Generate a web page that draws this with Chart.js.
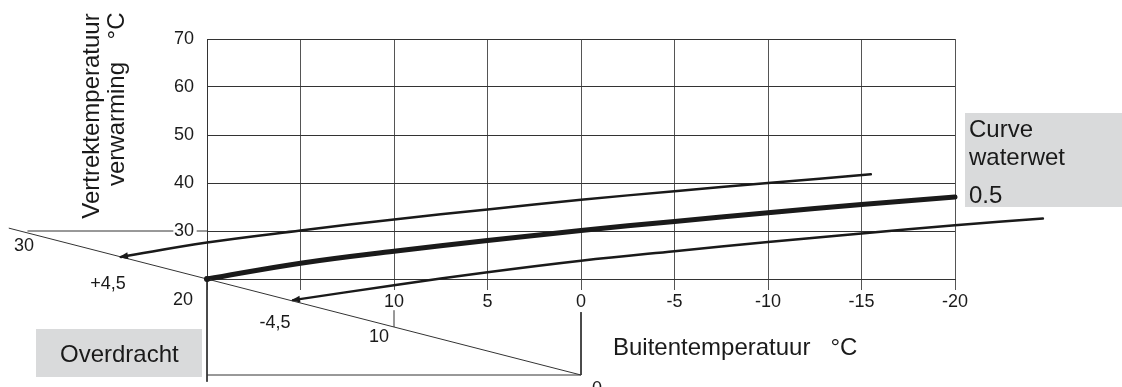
<!DOCTYPE html>
<html>
<head>
<meta charset="utf-8">
<script src="https://cdn.jsdelivr.net/npm/chart.js@4"></script>
<style>
  body { margin: 0; background: #fff; }
  canvas { display: block; }
</style>
</head>
<body>
<canvas id="heating_curve" width="1122" height="387"></canvas>
<script>
// outdoor temperature (x) against flow temperature (y)
const outdoor_main = [20, 15, 10, 5, 0, -5, -10, -15, -20];
const flow_main = [20, 23.3, 25.8, 28.0, 30.1, 32.0, 33.8, 35.5, 37.1];

const outdoor_up = [24.6, 20, 15, 10, 5, 0, -5, -10, -15.5];
const flow_up = [24.6, 27.6, 30.1, 32.4, 34.5, 36.5, 38.3, 40.0, 41.8];

const outdoor_low = [15.4, 10, 5, 0, -5, -10, -15, -20, -24.7];
const flow_low = [15.6, 18.7, 21.4, 23.8, 25.8, 27.7, 29.5, 31.2, 32.6];

// transfer scale (diagonal) and its construction lines
const transfer_x = [30.6, 0];
const transfer_y = [30.6, 0];
const transfer_tick_x = [10, 10];
const transfer_tick_y = [10, 13.5];
const ext30_x = [29.6, 21.8, 21.3, 20.55, 20];
const ext30_y = [30, 30, null, 30, 30];
const frame_x = [0, 0, 20];
const frame_y = [13.1, 0, 0];
const axis_ext_x = [20, 20];
const axis_ext_y = [20, -1.4];

const font_family = '"Liberation Sans", Arial, sans-serif';
const ink = '#1a1a1a';

function to_points(xs, ys) {
    return xs.map((x, i) => ({x: x, y: ys[i]}));
}

function thin_line(xs, ys) {
    return {
        data: to_points(xs, ys),
        borderColor: '#333',
        borderWidth: 1,
        pointRadius: 0,
        clip: false,
        spanGaps: false
    };
}

function curve(xs, ys, width) {
    return {
        data: to_points(xs, ys),
        borderColor: ink,
        borderWidth: width,
        borderCapStyle: 'round',
        pointRadius: 0,
        tension: 0.4,
        clip: false
    };
}

function draw_arrow(ctx, from, to) {
    const angle = Math.atan2(to.y - from.y, to.x - from.x);
    ctx.save();
    ctx.translate(to.x, to.y);
    ctx.rotate(angle);
    ctx.fillStyle = ink;
    ctx.beginPath();
    ctx.moveTo(2, 0);
    ctx.lineTo(-7, -3.5);
    ctx.lineTo(-7, 3.5);
    ctx.closePath();
    ctx.fill();
    ctx.restore();
}

const notes_plugin = {
    id: 'notes',
    afterDraw(chart) {
        const ctx = chart.ctx;
        const x = chart.scales.x;
        const y = chart.scales.y;
        const px = (vx, vy) => ({x: x.getPixelForValue(vx), y: y.getPixelForValue(vy)});

        // arrow heads at the start of the shifted curves
        [chart.getDatasetMeta(5), chart.getDatasetMeta(6)].forEach(meta => {
            const p0 = meta.data[0];
            const p1 = meta.data[1];
            draw_arrow(ctx, {x: p0.x + (p1.x - p0.x) * 0.1, y: p0.y + (p1.y - p0.y) * 0.1}, {x: p0.x, y: p0.y});
        });

        // dot at start of the main curve
        const start = px(outdoor_main[0], flow_main[0]);
        ctx.fillStyle = ink;
        ctx.beginPath();
        ctx.arc(start.x, start.y, 3, 0, Math.PI * 2);
        ctx.fill();

        ctx.textAlign = 'center';
        ctx.textBaseline = 'middle';
        ctx.font = '18px ' + font_family;
        const label = (text, vx, vy, dx, dy) => {
            const p = px(vx, vy);
            ctx.fillText(text, p.x + dx, p.y + dy);
        };
        label('30', 30, 30, 4, 15);
        label('10', 10, 10, -15, 10);
        label('0', 0, 0, 16, 14);
        label('20', 20, 20, -24, 21);
        label('+4,5', outdoor_up[0], flow_up[0], -13, 27);
        label('-4,5', outdoor_low[0], flow_low[0], -18, 23);

        // grey boxes
        ctx.fillStyle = '#d9dadb';
        ctx.fillRect(36, 329, 166, 48);
        ctx.fillRect(965, 113, 157, 94);

        ctx.fillStyle = ink;
        ctx.font = '24px ' + font_family;
        ctx.textAlign = 'left';
        ctx.textBaseline = 'alphabetic';
        ctx.fillText('Overdracht', 60, 362);
        ctx.fillText('Curve', 969, 137);
        ctx.fillText('waterwet', 969, 165);
        ctx.fillText('0.5', 969, 203);
        ctx.fillText('Buitentemperatuur   \u00B0C', 613, 355);

        // y axis title, two rotated lines
        const rotated = (text, cx, cy) => {
            ctx.save();
            ctx.translate(cx, cy);
            ctx.rotate(-Math.PI / 2);
            ctx.textAlign = 'center';
            ctx.fillText(text, 0, 0);
            ctx.restore();
        };
        rotated('Vertrektemperatuur', 99, 116);
        rotated('verwarming', 124, 124);
        rotated('\u00B0C', 124, 26);
    }
};

new Chart(document.getElementById('heating_curve'), {
    type: 'line',
    data: {
        datasets: [
            thin_line(transfer_x, transfer_y),
            thin_line(transfer_tick_x, transfer_tick_y),
            thin_line(ext30_x, ext30_y),
            thin_line(frame_x, frame_y),
            thin_line(axis_ext_x, axis_ext_y),
            curve(outdoor_up, flow_up, 2.5),
            curve(outdoor_low, flow_low, 2.5),
            curve(outdoor_main, flow_main, 5)
        ]
    },
    options: {
        responsive: false,
        animation: false,
        devicePixelRatio: 1,
        layout: {
            padding: {left: 167, right: 167, top: 39, bottom: 78}
        },
        plugins: {
            legend: {display: false},
            tooltip: {enabled: false}
        },
        scales: {
            x: {
                type: 'linear',
                reverse: true,
                min: -20,
                max: 20,
                afterFit(axis) { axis.height = 30; },
                border: {display: true, color: '#333'},
                grid: {color: '#555', tickLength: 11, tickColor: '#555'},
                ticks: {
                    stepSize: 5,
                    padding: 1,
                    maxRotation: 0,
                    color: ink,
                    font: {size: 18, family: font_family},
                    callback: (v) => v >= 15 ? '' : String(v)
                }
            },
            y: {
                type: 'linear',
                min: 20,
                max: 70,
                afterFit(axis) { axis.width = 40; },
                border: {display: true, color: '#333'},
                grid: {color: '#333', drawTicks: false},
                ticks: {
                    stepSize: 10,
                    padding: 13,
                    color: ink,
                    font: {size: 18, family: font_family},
                    callback: (v) => v === 20 ? '' : String(v)
                }
            }
        }
    },
    plugins: [notes_plugin]
});
</script>
</body>
</html>
